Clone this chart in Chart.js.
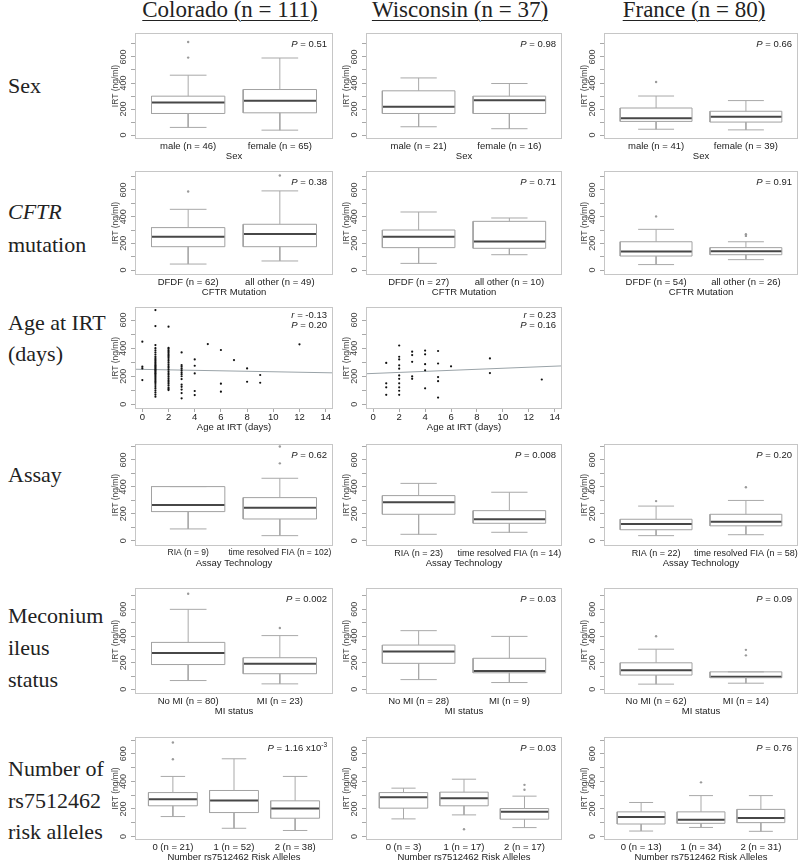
<!DOCTYPE html>
<html>
<head>
<meta charset="utf-8">
<script src="https://cdn.jsdelivr.net/npm/chart.js@4.4.1/dist/chart.umd.min.js"></script>
<style>
  body { margin: 0; background: #fff; width: 800px; height: 864px; position: relative; overflow: hidden; }
  canvas { position: absolute; }
  .hdr { position: absolute; top: -2px; font-family: 'Liberation Serif', 'Times New Roman', serif; font-size: 23px; line-height: 23px;
         text-decoration: underline; text-decoration-thickness: 1px; text-underline-offset: 3px; color: #222; white-space: nowrap; transform: translateX(-50%); }
  .rowlab { position: absolute; left: 8px; font-family: 'Liberation Serif', 'Times New Roman', serif; font-size: 22px; line-height: 22px; color: #222; white-space: nowrap; }
</style>
</head>
<body>
<div class="hdr" style="left:230px">Colorado (n = 111)</div>
<div class="hdr" style="left:460px">Wisconsin (n = 37)</div>
<div class="hdr" style="left:694px">France (n = 80)</div>

<div class="rowlab" style="top:75px">Sex</div>
<div class="rowlab" style="top:201px"><i>CFTR</i></div>
<div class="rowlab" style="top:234px">mutation</div>
<div class="rowlab" style="top:312px">Age at IRT</div>
<div class="rowlab" style="top:343px">(days)</div>
<div class="rowlab" style="top:464px">Assay</div>
<div class="rowlab" style="top:605px">Meconium</div>
<div class="rowlab" style="top:637px">ileus</div>
<div class="rowlab" style="top:669px">status</div>
<div class="rowlab" style="top:758px">Number of</div>
<div class="rowlab" style="top:790px">rs7512462</div>
<div class="rowlab" style="top:821px">risk alleles</div>

<script>
// ---------------------------------------------------------------- data
const sexGroups = ['male', 'female'];
const cftrGroups = ['DFDF', 'all other'];
const assayGroups = ['RIA', 'time resolved FIA'];
const miGroups = ['No MI', 'MI'];
const alleleGroups = ['0', '1', '2'];

// box stats per group: [lower whisker, Q1, median, Q3, upper whisker]
const coSexN = [46, 65];
const coSexBox = [[59, 166, 250, 299, 460], [38, 171, 263, 350, 592]];
const coSexOut = [[595, 715], []];
const wiSexN = [21, 16];
const wiSexBox = [[64, 166, 217, 340, 439], [49, 166, 268, 299, 396]];
const wiSexOut = [[], []];
const frSexN = [41, 39];
const frSexBox = [[45, 105, 130, 208, 300], [40, 100, 140, 183, 265]];
const frSexOut = [[408], []];
const sexP = ['0.51', '0.98', '0.66'];

const coCftrN = [62, 49];
const coCftrBox = [[45, 175, 250, 318, 455], [68, 175, 270, 343, 593]];
const coCftrOut = [[588], [708]];
const wiCftrN = [27, 10];
const wiCftrBox = [[50, 168, 250, 300, 435], [115, 163, 213, 365, 390]];
const wiCftrOut = [[], []];
const frCftrN = [54, 26];
const frCftrBox = [[41, 105, 139, 212, 305], [78, 115, 141, 168, 212]];
const frCftrOut = [[402], [256, 268]];
const cftrP = ['0.38', '0.71', '0.91'];

// age at IRT (days) vs IRT (ng/ml)
const coAgeDays = [0, 1, 2, 3, 4, 5, 6, 7, 8, 9, 12];
const coIrtByAge = [
  [446, 268, 256, 173],
  [671, 557, 422, 400, 385, 370, 355, 340, 330, 320, 310, 300, 290, 282, 275, 268, 260, 252, 245, 238,
   230, 222, 215, 205, 195, 185, 175, 165, 155, 145, 130, 115, 100, 85, 70, 55],
  [553, 403, 395, 385, 375, 365, 355, 345, 335, 322, 310, 298, 285, 272, 260, 248, 235, 222, 210, 198,
   185, 172, 160, 148, 135, 120, 110, 102],
  [370, 280, 268, 255, 242, 228, 215, 200, 180, 140, 125, 105, 80, 43],
  [320, 275, 220, 95, 66],
  [429],
  [387, 147, 90],
  [315],
  [256, 161],
  [209, 154],
  [427]
];
const coFit = [249, -1.7];          // intercept, slope
const coAgeStats = ['-0.13', '0.20'];  // r, P

const wiAgeDays = [1, 2, 3, 4, 5, 6, 9, 13];
const wiIrtByAge = [
  [295, 150, 121, 68],
  [419, 339, 320, 278, 254, 206, 182, 150, 121, 97, 68],
  [375, 351, 303, 199, 182],
  [383, 356, 286, 242, 114],
  [380, 291, 194, 165, 48],
  [271],
  [327, 223],
  [177]
];
const wiFit = [220, 3.7];
const wiAgeStats = ['0.23', '0.16'];
const ageTicks = [0, 2, 4, 6, 8, 10, 12, 14];

const coAssayN = [9, 102];
const coAssayBox = [[87, 216, 265, 402, 402], [37, 161, 245, 320, 464]];
const coAssayOut = [[], [575, 700]];
const wiAssayN = [23, 14];
const wiAssayBox = [[47, 196, 285, 335, 426], [62, 129, 159, 223, 360]];
const wiAssayOut = [[], []];
const frAssayN = [22, 58];
const frAssayBox = [[37, 81, 123, 159, 257], [44, 110, 140, 196, 299]];
const frAssayOut = [[294], [397]];
const assayP = ['0.62', '0.008', '0.20'];

const coMiN = [80, 23];
const coMiBox = [[66, 186, 273, 352, 600], [41, 117, 191, 237, 403]];
const coMiOut = [[717], [460]];
const wiMiN = [28, 9];
const wiMiBox = [[73, 195, 284, 332, 440], [51, 124, 137, 233, 397]];
const wiMiOut = [[], []];
const frMiN = [62, 14];
const frMiBox = [[39, 107, 143, 199, 301], [46, 87, 95, 131, 131]];
const frMiOut = [[398], [255, 296]];
const miP = ['0.002', '0.03', '0.09'];

const coAlleleN = [21, 52, 38];
const coAlleleBox = [[145, 223, 271, 319, 436], [60, 174, 261, 334, 564], [44, 133, 203, 259, 436]];
const coAlleleOut = [[561, 682], [], []];
const wiAlleleN = [3, 17, 17];
const wiAlleleBox = [[128, 206, 285, 319, 351], [157, 223, 278, 322, 416], [65, 126, 179, 203, 293]];
const wiAlleleOut = [[], [53], [339, 375]];
const frAlleleN = [13, 34, 31];
const frAlleleBox = [[40, 91, 141, 179, 247], [66, 96, 121, 179, 297], [38, 101, 134, 197, 297]];
const frAlleleOut = [[], [393], []];
const alleleP = ['1.16 x10^-3', '0.03', '0.76'];

const irtTicks = [0, 100, 200, 300, 400, 500, 600, 700];

// ---------------------------------------------------------------- layout
const COL_L = [135, 366, 604];
const COL_R = [333, 562, 798];
const ROW_T = [33, 171, 307, 444, 588, 737];
const ROW_B = [139, 275, 409, 546, 694, 840];
const ROW_YMIN = [-30, -37, -33, -40, -35, -25];
const ROW_YMAX = [784, 742, 693, 719, 760, 722];
const Y_W = 27, PAD_T = 4, PAD_R = 24, X_H = 24;
const BOX_HW = 0.4, CAP_HW = 0.2;
const FAM = "'Liberation Sans', Arial, sans-serif";

Chart.defaults.font.family = FAM;
Chart.defaults.color = '#333';
Chart.defaults.animation = false;

const framePlugin = {
    id: 'frame',
    afterDatasetsDraw(chart) {
        const {ctx, chartArea: a} = chart;
        ctx.save();
        ctx.strokeStyle = '#c6c6c6';
        ctx.lineWidth = 1;
        ctx.strokeRect(a.left + 0.5, a.top + 0.5, a.right - a.left - 1, a.bottom - a.top - 1);
        ctx.restore();
    }
};

// "P = 0.51" style text in the upper right corner
const cornerTextPlugin = {
    id: 'cornerText',
    afterDraw(chart, args, opts) {
        if (!opts.lines) return;
        const {ctx, chartArea} = chart;
        ctx.save();
        ctx.fillStyle = '#222';
        ctx.textBaseline = 'alphabetic';
        ctx.textAlign = 'right';
        opts.lines.forEach(([sym, val], k) => {
            const y = chartArea.top + opts.first + k * 10;
            let x = chartArea.right - 6;
            let [base, sup] = val.split('^');
            if (sup) {
                ctx.font = `6.5px ${FAM}`;
                ctx.fillText(sup, x, y - 4);
                x -= ctx.measureText(sup).width;
            }
            ctx.font = `9.5px ${FAM}`;
            const rest = ' = ' + base;
            ctx.fillText(rest, x, y);
            x -= ctx.measureText(rest).width;
            ctx.font = `italic 9.5px ${FAM}`;
            ctx.fillText(sym, x, y);
        });
        ctx.restore();
    }
};

function makeCanvas(row, col) {
    const c = document.createElement('canvas');
    const w = Y_W + (COL_R[col] - COL_L[col]) + PAD_R;
    const h = PAD_T + (ROW_B[row] - ROW_T[row]) + X_H;
    c.width = w;
    c.height = h;
    c.style.left = (COL_L[col] - Y_W) + 'px';
    c.style.top = (ROW_T[row] - PAD_T) + 'px';
    c.style.width = w + 'px';
    c.style.height = h + 'px';
    document.body.appendChild(c);
    return c;
}

function yScale(row) {
    return {
        type: 'linear',
        min: ROW_YMIN[row],
        max: ROW_YMAX[row],
        afterBuildTicks: s => {
            s.ticks = irtTicks.filter(v => v <= ROW_YMAX[row]).map(v => ({value: v}));
        },
        afterFit: s => {
            s.width = Y_W;
            s.paddingTop = 0;
            s.paddingBottom = 0;
        },
        ticks: {
            autoSkip: false,
            minRotation: 90,
            maxRotation: 90,
            crossAlign: 'center',
            padding: 0,
            color: '#444',
            font: {size: 9},
            callback: v => (v % 200 === 0 ? String(v) : '')
        },
        grid: {drawOnChartArea: false, tickLength: 4, color: '#a8a8a8'},
        border: {display: false},
        title: {display: true, text: 'IRT (ng/ml)', color: '#444', font: {size: 8.5}, padding: {top: 3, bottom: 0}}
    };
}

function xAfterFit(s) {
    s.height = X_H;
    s.paddingLeft = 0;
    s.paddingRight = 0;
}

function boxPanel(row, col, groups, n, box, out, xTitle, pText, labelSize) {
    const boxes = [], meds = [], whis = [], pts = [];
    box.forEach(([lo, q1, md, q3, hi], i) => {
        const x = i + 1;
        boxes.push({x: x - BOX_HW, y: q1}, {x: x + BOX_HW, y: q1}, {x: x + BOX_HW, y: q3},
                   {x: x - BOX_HW, y: q3}, {x: x - BOX_HW, y: q1}, {x: x, y: null});
        meds.push({x: x - BOX_HW, y: md}, {x: x + BOX_HW, y: md}, {x: x, y: null});
        whis.push({x: x, y: q3}, {x: x, y: hi}, {x: x, y: null},
                  {x: x - CAP_HW, y: hi}, {x: x + CAP_HW, y: hi}, {x: x, y: null},
                  {x: x, y: q1}, {x: x, y: lo}, {x: x, y: null},
                  {x: x - CAP_HW, y: lo}, {x: x + CAP_HW, y: lo}, {x: x, y: null});
        out[i].forEach(v => pts.push({x: x, y: v}));
    });
    const k = groups.length;
    const xMin = 0.5 - 0.04 * k, xMax = k + 0.5 + 0.04 * k;
    const line = (data, color, width) => ({
        data, showLine: true, borderColor: color, borderWidth: width,
        pointRadius: 0, pointHoverRadius: 0, spanGaps: false, tension: 0, fill: false
    });
    new Chart(makeCanvas(row, col), {
        type: 'scatter',
        data: {
            datasets: [
                line(whis, '#a9a9a9', 1),
                line(boxes, '#a2a2a2', 1),
                line(meds, '#474747', 2),
                {data: pts, pointRadius: 1.2, pointBorderWidth: 0, backgroundColor: '#9a9a9a'}
            ]
        },
        options: {
            responsive: false,
            layout: {padding: {top: PAD_T, right: PAD_R, left: 0, bottom: 0}},
            plugins: {legend: {display: false}, tooltip: {enabled: false},
                      cornerText: {lines: [['P', pText]], first: 14}},
            scales: {
                x: {
                    type: 'linear', min: xMin, max: xMax,
                    afterBuildTicks: s => { s.ticks = groups.map((g, i) => ({value: i + 1})); },
                    afterFit: xAfterFit,
                    ticks: {
                        autoSkip: false, maxRotation: 0, padding: 2, color: '#222',
                        font: {size: labelSize || 9.5},
                        callback: v => `${groups[v - 1]} (n = ${n[v - 1]})`
                    },
                    grid: {display: false, drawTicks: false},
                    border: {display: false},
                    title: {display: true, text: xTitle, color: '#222', font: {size: 9.5}, padding: {top: 0, bottom: 1}}
                },
                y: yScale(row)
            }
        },
        plugins: [framePlugin, cornerTextPlugin]
    });
}

function agePanel(row, col, days, irtByAge, fit, stats) {
    const pts = [];
    days.forEach((d, i) => irtByAge[i].forEach(v => pts.push({x: d, y: v})));
    const xMin = -0.56, xMax = 14.56;
    const fitLine = [{x: xMin, y: fit[0] + fit[1] * xMin}, {x: xMax, y: fit[0] + fit[1] * xMax}];
    new Chart(makeCanvas(row, col), {
        type: 'scatter',
        data: {
            datasets: [
                {data: pts, pointRadius: 1.1, pointBorderWidth: 0, backgroundColor: '#111'},
                {data: fitLine, showLine: true, borderColor: '#9aa3a8', borderWidth: 1, pointRadius: 0}
            ]
        },
        options: {
            responsive: false,
            layout: {padding: {top: PAD_T, right: PAD_R, left: 0, bottom: 0}},
            plugins: {legend: {display: false}, tooltip: {enabled: false},
                      cornerText: {lines: [['r', stats[0]], ['P', stats[1]]], first: 11}},
            scales: {
                x: {
                    type: 'linear', min: xMin, max: xMax,
                    afterBuildTicks: s => { s.ticks = ageTicks.map(v => ({value: v})); },
                    afterFit: xAfterFit,
                    ticks: {autoSkip: false, maxRotation: 0, padding: 0, color: '#222', font: {size: 9.5}},
                    grid: {drawOnChartArea: false, tickLength: 3, color: '#a8a8a8'},
                    border: {display: false},
                    title: {display: true, text: 'Age at IRT (days)', color: '#222', font: {size: 9.5}, padding: {top: 0, bottom: 0}}
                },
                y: yScale(row)
            }
        },
        plugins: [framePlugin, cornerTextPlugin]
    });
}

// ---------------------------------------------------------------- panels
boxPanel(0, 0, sexGroups, coSexN, coSexBox, coSexOut, 'Sex', sexP[0]);
boxPanel(0, 1, sexGroups, wiSexN, wiSexBox, wiSexOut, 'Sex', sexP[1]);
boxPanel(0, 2, sexGroups, frSexN, frSexBox, frSexOut, 'Sex', sexP[2]);

boxPanel(1, 0, cftrGroups, coCftrN, coCftrBox, coCftrOut, 'CFTR Mutation', cftrP[0]);
boxPanel(1, 1, cftrGroups, wiCftrN, wiCftrBox, wiCftrOut, 'CFTR Mutation', cftrP[1]);
boxPanel(1, 2, cftrGroups, frCftrN, frCftrBox, frCftrOut, 'CFTR Mutation', cftrP[2]);

agePanel(2, 0, coAgeDays, coIrtByAge, coFit, coAgeStats);
agePanel(2, 1, wiAgeDays, wiIrtByAge, wiFit, wiAgeStats);

boxPanel(3, 0, assayGroups, coAssayN, coAssayBox, coAssayOut, 'Assay Technology', assayP[0], 8.5);
boxPanel(3, 1, assayGroups, wiAssayN, wiAssayBox, wiAssayOut, 'Assay Technology', assayP[1], 9);
boxPanel(3, 2, assayGroups, frAssayN, frAssayBox, frAssayOut, 'Assay Technology', assayP[2], 9);

boxPanel(4, 0, miGroups, coMiN, coMiBox, coMiOut, 'MI status', miP[0]);
boxPanel(4, 1, miGroups, wiMiN, wiMiBox, wiMiOut, 'MI status', miP[1]);
boxPanel(4, 2, miGroups, frMiN, frMiBox, frMiOut, 'MI status', miP[2]);

boxPanel(5, 0, alleleGroups, coAlleleN, coAlleleBox, coAlleleOut, 'Number rs7512462 Risk Alleles', alleleP[0]);
boxPanel(5, 1, alleleGroups, wiAlleleN, wiAlleleBox, wiAlleleOut, 'Number rs7512462 Risk Alleles', alleleP[1]);
boxPanel(5, 2, alleleGroups, frAlleleN, frAlleleBox, frAlleleOut, 'Number rs7512462 Risk Alleles', alleleP[2]);
</script>
</body>
</html>
